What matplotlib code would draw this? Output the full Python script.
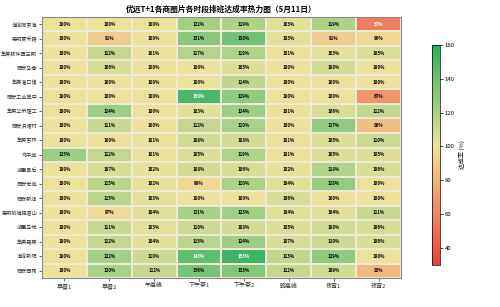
import matplotlib.pyplot as plt
import numpy as np
from matplotlib.colors import LinearSegmentedColormap, Normalize

plt.rcParams['font.family'] = ['Noto Sans CJK SC', 'DejaVu Sans']

areas = ["海沧阿罗海", "思明夏禾路", "集美软件园三期", "同安马巷", "集美灌口镇",
         "同安工业集中", "集美华侨理工", "同安洪塘村", "集美杏林", "岛中城",
         "湖里县后", "同安老城", "同安新店", "思明前埔观音山", "湖里马垅",
         "集美嘉庚", "海沧新阳", "同安西柯"]
periods = ["早餐1", "早餐2", "午高峰", "下午茶1", "下午茶2", "晚高峰", "夜宵1", "夜宵2"]

rate = np.array([
    [100, 100, 100, 122, 119, 103, 119, 57],
    [100, 91, 100, 131, 138, 103, 91, 96],
    [100, 112, 101, 117, 119, 101, 103, 105],
    [100, 106, 100, 100, 105, 100, 108, 100],
    [100, 100, 100, 100, 114, 100, 100, 100],
    [100, 100, 100, 150, 129, 100, 100, 67],
    [100, 124, 100, 103, 124, 101, 106, 112],
    [100, 111, 100, 112, 120, 100, 127, 86],
    [100, 100, 101, 108, 108, 101, 105, 110],
    [125, 112, 101, 105, 119, 101, 105, 105],
    [100, 107, 102, 108, 106, 102, 118, 106],
    [100, 115, 102, 96, 120, 104, 128, 100],
    [100, 115, 103, 100, 100, 106, 100, 100],
    [100, 97, 104, 121, 123, 104, 104, 111],
    [100, 111, 103, 110, 108, 105, 108, 106],
    [100, 112, 104, 115, 124, 107, 110, 106],
    [100, 122, 110, 143, 153, 113, 129, 100],
    [100, 120, 112, 136, 133, 112, 109, 83],
])

cmap = LinearSegmentedColormap.from_list(
    "rate", [(0.0, "#e8433a"), (0.3, "#f19a6e"), (0.54, "#ece39c"), (1.0, "#2bae5f")])
norm = Normalize(vmin=30, vmax=160)

fig = plt.figure(figsize=(5, 3.07), dpi=100)
ax = fig.add_axes([0.084, 0.094, 0.718, 0.851])
cax = fig.add_axes([0.864, 0.137, 0.016, 0.717])

mesh = ax.pcolormesh(rate, cmap=cmap, norm=norm, edgecolors="#eeebd2", linewidth=0.08)
ax.set_xlim(0, len(periods))
ax.set_ylim(len(areas), 0)

for i in range(len(areas)):
    for j in range(len(periods)):
        v = rate[i, j]
        c = "white" if (v >= 140 or v < 60) else "black"
        ax.text(j + 0.5, i + 0.5, f"{v}%", ha="center", va="center",
                fontsize=3.2, color=c, fontweight="bold")

ax.set_xticks(np.arange(len(periods)) + 0.5)
ax.set_xticklabels(periods, fontsize=4.3)
ax.set_yticks(np.arange(len(areas)) + 0.5)
ax.set_yticklabels(areas, fontsize=3.7)
ax.tick_params(length=2, width=0.5, pad=1.5, colors="#333333")
for s in ax.spines.values():
    s.set_color("#888888")
    s.set_linewidth(0.8)

ax.set_title("优远T+1各商圈片各时段排班达成率热力图（5月11日）",
             fontsize=5.6, fontweight="bold", pad=4)

cb = fig.colorbar(mesh, cax=cax)
cb.set_ticks([40, 60, 80, 100, 120, 140, 160])
cb.ax.tick_params(labelsize=4.3, length=2, width=0.5, pad=1.5)
cb.outline.set_linewidth(0.5)
cb.set_label("达成率 (%)", fontsize=4.3, labelpad=3)

fig.savefig("out.png", dpi=100)
